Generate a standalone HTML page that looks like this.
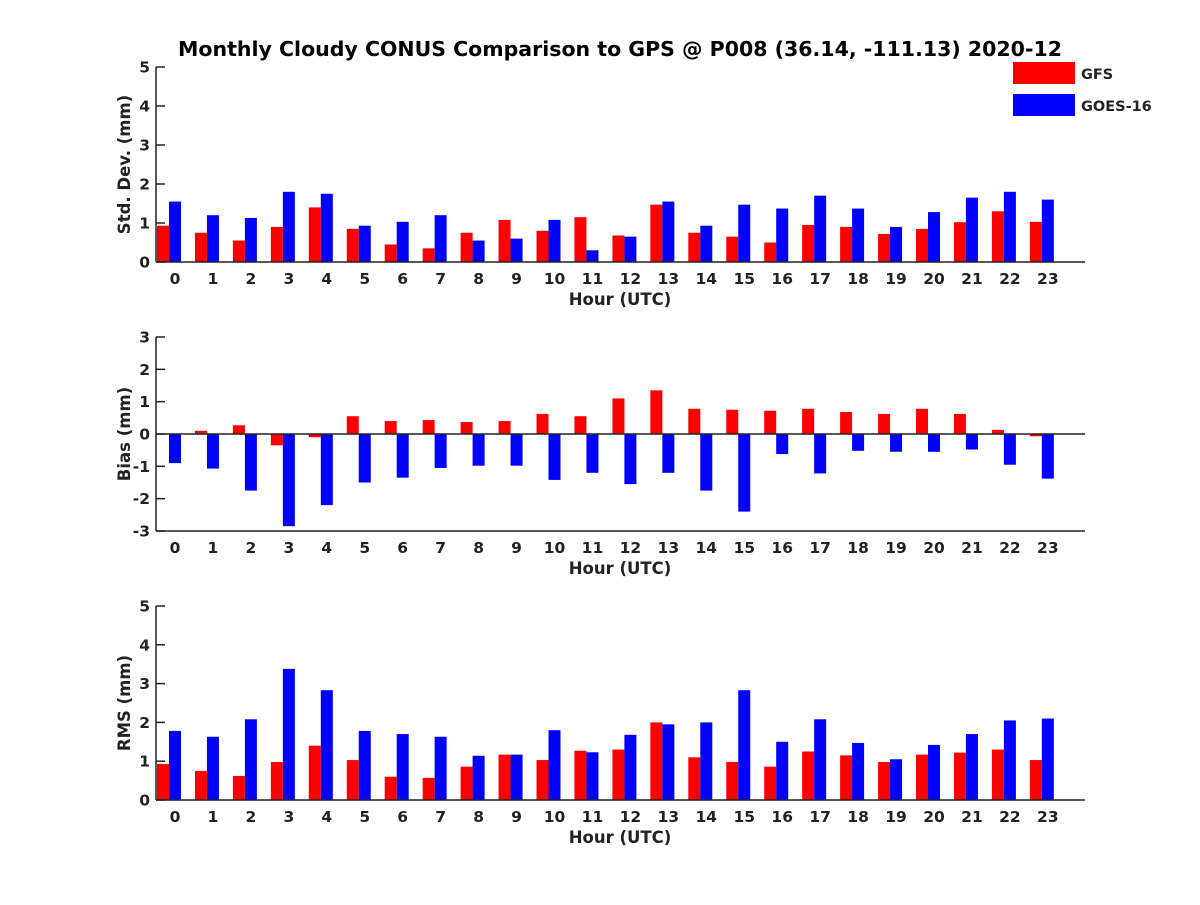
<!DOCTYPE html>
<html><head><meta charset="utf-8"><style>
body{margin:0;background:#fff;}
svg text{font-family:"DejaVu Sans","Liberation Sans",sans-serif;font-weight:bold;fill:#222;}
</style></head><body>
<svg id="chart" width="1200" height="900" xmlns="http://www.w3.org/2000/svg">
<text x="620" y="56" text-anchor="middle" font-size="20.5" style="fill:#000">Monthly Cloudy CONUS Comparison to GPS @ P008 (36.14, -111.13) 2020-12</text>
<g>
<rect x="1013" y="62" width="62" height="22" fill="#ff0000"/>
<text x="1081" y="79" font-size="14.5">GFS</text>
<rect x="1013" y="94" width="62" height="22" fill="#0000ff"/>
<text x="1081" y="111" font-size="14.5">GOES-16</text>
</g>
</svg>
<script>
const hours=[0,1,2,3,4,5,6,7,8,9,10,11,12,13,14,15,16,17,18,19,20,21,22,23];
const stdGFS=[0.93,0.75,0.55,0.9,1.4,0.85,0.45,0.35,0.75,1.08,0.8,1.15,0.68,1.47,0.75,0.65,0.5,0.95,0.9,0.72,0.85,1.02,1.3,1.03];
const stdGOES=[1.55,1.2,1.13,1.8,1.75,0.93,1.03,1.2,0.55,0.6,1.08,0.3,0.65,1.55,0.93,1.47,1.37,1.7,1.37,0.9,1.28,1.65,1.8,1.6];
const biasGFS=[0.0,0.1,0.27,-0.35,-0.1,0.55,0.4,0.43,0.37,0.4,0.62,0.55,1.1,1.35,0.78,0.75,0.72,0.78,0.68,0.62,0.78,0.62,0.13,-0.07];
const biasGOES=[-0.9,-1.07,-1.75,-2.85,-2.2,-1.5,-1.35,-1.05,-0.98,-0.98,-1.42,-1.2,-1.55,-1.2,-1.75,-2.4,-0.62,-1.22,-0.52,-0.55,-0.55,-0.48,-0.95,-1.38];
const rmsGFS=[0.93,0.75,0.62,0.98,1.4,1.03,0.6,0.57,0.86,1.17,1.03,1.27,1.3,2.0,1.1,0.98,0.86,1.25,1.15,0.98,1.17,1.22,1.3,1.03];
const rmsGOES=[1.78,1.63,2.08,3.38,2.83,1.78,1.7,1.63,1.14,1.17,1.8,1.23,1.68,1.95,2.0,2.83,1.5,2.08,1.47,1.05,1.42,1.7,2.05,2.1];
const stdTicks=[0,1,2,3,4,5];
const biasTicks=[-3,-2,-1,0,1,2,3];
const rmsTicks=[0,1,2,3,4,5];

const NS="http://www.w3.org/2000/svg";
const svg=document.getElementById('chart');
function mk(tag,attrs,parent){const e=document.createElementNS(NS,tag);for(const k in attrs)e.setAttribute(k,attrs[k]);(parent||svg).appendChild(e);return e;}
const X0=156,X1=1085;
function xc(h){return 169+37.95*h;}

function panel(name,top,bottom,ymin,ymax,ticks,ylabel,gfs,goes,zeroLine){
  const g=mk('g',{});
  
  
  const y=v=>bottom-(v-ymin)/(ymax-ymin)*(bottom-top);
  const y0=y(Math.max(ymin,0));
  hours.forEach((h,i)=>{
    const a=gfs[i],b=goes[i];
    const r=mk('rect',{x:xc(h)-12,y:Math.min(y(a),y0),width:12,height:Math.abs(y(a)-y0),fill:'#ff0000'},g);
    
    
    const s=mk('rect',{x:xc(h),y:Math.min(y(b),y0),width:12,height:Math.abs(y(b)-y0),fill:'#0000ff'},g);
    
    
    const t=mk('text',{x:xc(h)+6,y:bottom+22,'text-anchor':'middle','font-size':15.5},g);
    t.textContent=h;
    
    
  });
  ticks.forEach(v=>{
    const yy=y(v);
    mk('line',{x1:X0,x2:X0+9,y1:yy,y2:yy,stroke:'#222','stroke-width':1.5},g);
    const t=mk('text',{x:X0-6,y:yy+5.5,'text-anchor':'end','font-size':15.5},g);
    t.textContent=v;
    
    
  });
  if(zeroLine){mk('line',{x1:X0,x2:X1,y1:y(0),y2:y(0),stroke:'#222','stroke-width':1.5},g);}
  mk('line',{x1:X0,x2:X0,y1:top,y2:bottom,stroke:'#222','stroke-width':1.5},g);
  mk('line',{x1:X0,x2:X1,y1:bottom,y2:bottom,stroke:'#222','stroke-width':1.5},g);
  const xl=mk('text',{x:620,y:bottom+43,'text-anchor':'middle','font-size':16.5},g);
  xl.textContent='Hour (UTC)';
  
  
  const cy=(top+bottom)/2;
  const yl=mk('text',{x:130,y:cy,'text-anchor':'middle','font-size':16.5,transform:'rotate(-90 130 '+cy+')'},g);
  yl.textContent=ylabel;
  
  
}
panel('std-dev',67,262,0,5,stdTicks,'Std. Dev. (mm)',stdGFS,stdGOES,false);
panel('bias',337,531,-3,3,biasTicks,'Bias (mm)',biasGFS,biasGOES,true);
panel('rms',606,800,0,5,rmsTicks,'RMS (mm)',rmsGFS,rmsGOES,false);
</script>
</body></html>
